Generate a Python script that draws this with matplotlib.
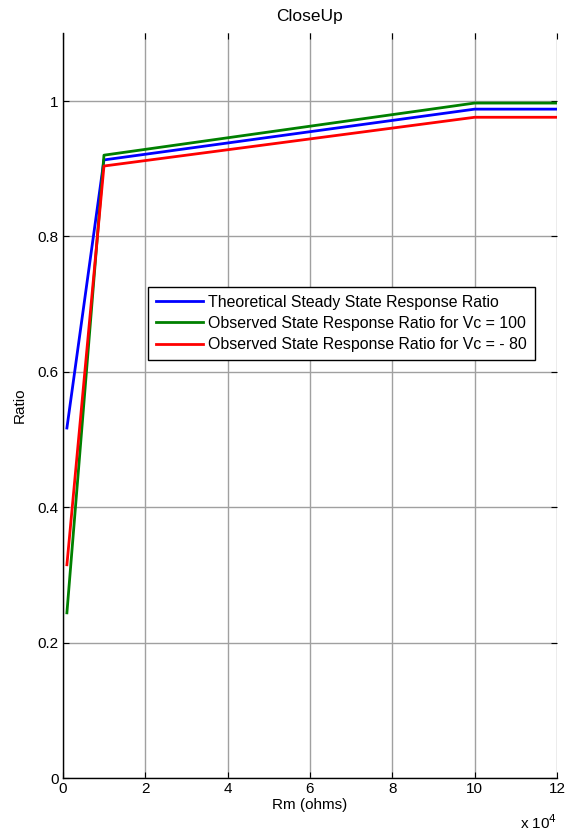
import numpy as np
import matplotlib.pyplot as plt

plt.rcParams['font.family'] = ['Liberation Sans', 'DejaVu Sans']

rm = [1000, 10000, 100000, 1000000]
theoretical = [0.517, 0.913, 0.988, 0.988]
observed_100 = [0.244, 0.920, 0.997, 0.997]
observed_m80 = [0.315, 0.904, 0.976, 0.976]

xticks = [0, 2, 4, 6, 8, 10, 12]
yticks = [0, 0.2, 0.4, 0.6, 0.8, 1]

fig = plt.figure(figsize=(5.76, 8.33), dpi=100)
ax = fig.add_axes([0.109, 0.066, 0.858, 0.894])

ax.plot(rm, theoretical, color='#0000ff', lw=2,
        label='Theoretical Steady State Response Ratio')
ax.plot(rm, observed_100, color='#008000', lw=2,
        label='Observed State Response Ratio for Vc = 100')
ax.plot(rm, observed_m80, color='#ff0000', lw=2,
        label='Observed State Response Ratio for Vc = - 80')

ax.set_xlim(0, 120000)
ax.set_ylim(0, 1.1)
ax.set_xticks([t * 1e4 for t in xticks])
ax.set_xticklabels([str(t) for t in xticks])
ax.set_yticks(yticks)
ax.set_yticklabels(['0', '0.2', '0.4', '0.6', '0.8', '1'])
ax.grid(True, color='#a0a0a0', lw=1)
ax.tick_params(direction='in', top=True, right=True, labelsize=11, length=4, pad=3)
ax.spines['top'].set_visible(False)
ax.spines['right'].set_visible(False)
for s in ('left', 'bottom'):
    ax.spines[s].set_linewidth(1)

ax.set_title('CloseUp', fontsize=12.5, pad=9)
ax.set_xlabel('Rm (ohms)', fontsize=11, labelpad=1)
ax.set_ylabel('Ratio', fontsize=11, labelpad=8)
ax.text(1.0, -0.048, r'x 10$^4$', transform=ax.transAxes, ha='right', va='top', fontsize=11)

leg = ax.legend(loc='lower left', bbox_to_anchor=(0.172, 0.561), fontsize=11.4,
                fancybox=False, framealpha=1, edgecolor='black',
                handlelength=3.0, borderpad=0.5, labelspacing=0.4, handletextpad=0.3,
                borderaxespad=0)
leg.get_frame().set_linewidth(1)

fig.savefig('out.png', dpi=100)
